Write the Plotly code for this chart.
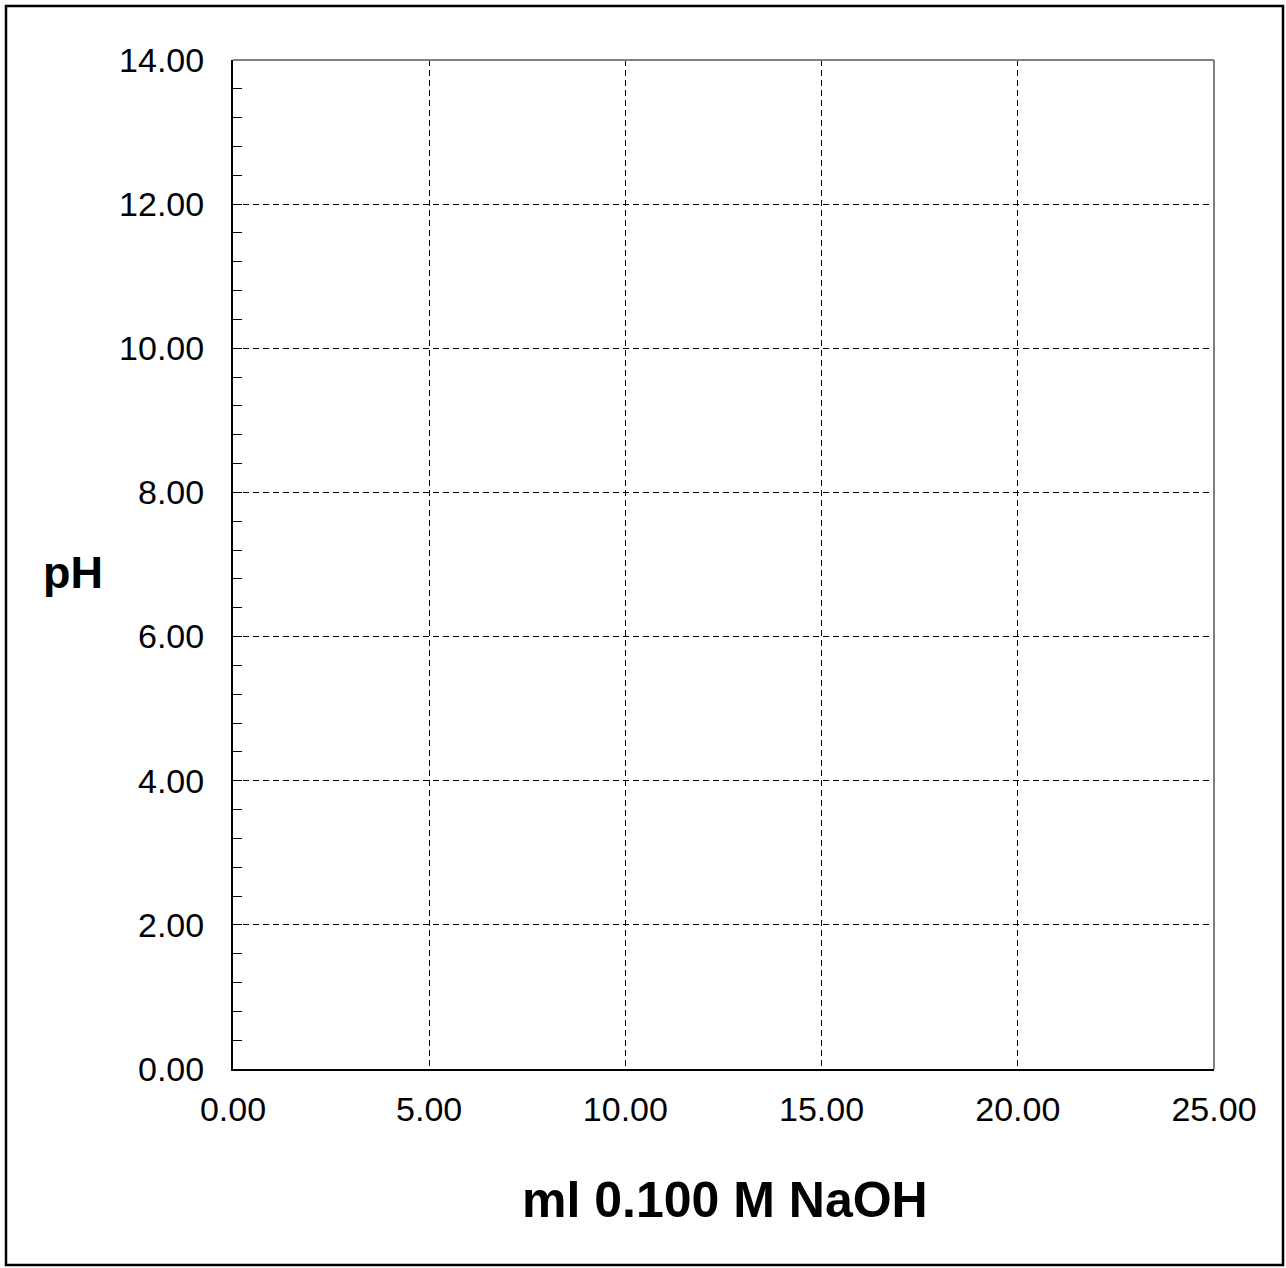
import plotly.graph_objects as go

# Data (the reference chart is an empty titration grid)
volume_ml = []
ph_values = []
x_ticks = [0, 5, 10, 15, 20, 25]
y_ticks = [0, 2, 4, 6, 8, 10, 12, 14]
x_title = "ml 0.100 M NaOH"
y_title = "pH"

W, H = 1286, 1268
L, R, T, B = 233, 1214, 60, 1069
pw, ph = R - L, B - T

def px_x(x):
    return (x - L) / pw

def px_y(y):
    return (B - y) / ph

fig = go.Figure()
fig.add_trace(go.Scatter(x=volume_ml, y=ph_values, mode="lines", line=dict(color="black"), showlegend=False))

FONT = "Liberation Sans, Arial, sans-serif"

fig.update_layout(
    width=W, height=H,
    margin=dict(l=L, r=W - R, t=T, b=H - B, pad=0),
    paper_bgcolor="white", plot_bgcolor="white",
    font=dict(family=FONT, color="black"),
    showlegend=False,
)

fig.update_xaxes(
    range=[0, 25], tickvals=x_ticks, tickformat=".2f",
    showgrid=True, gridcolor="black", gridwidth=1, griddash="6px,4px",
    zeroline=False, showline=True, linecolor="black", linewidth=2,
    ticks="", tickfont=dict(size=34, family=FONT, color="black"),
    ticklabelstandoff=9,
)
fig.update_yaxes(
    range=[0, 14], tickvals=y_ticks, tickformat=".2f",
    showgrid=True, gridcolor="black", gridwidth=1, griddash="6px,4px",
    zeroline=False, showline=True, linecolor="black", linewidth=2,
    ticks="inside", ticklen=9, tickcolor="black", tickwidth=1,
    minor=dict(ticks="inside", dtick=0.4, ticklen=9, tickcolor="black", tickwidth=1, showgrid=False),
    tickfont=dict(size=34, family=FONT, color="black"),
    ticklabelstandoff=20,
)

shapes = [
    # top and right plot border in gray
    dict(type="line", xref="paper", yref="paper", x0=0, x1=1, y0=1, y1=1, line=dict(color="#808080", width=2)),
    dict(type="line", xref="paper", yref="paper", x0=1, x1=1, y0=0, y1=1, line=dict(color="#808080", width=2)),
    # outer frame
    dict(type="rect", xref="paper", yref="paper",
         x0=px_x(6), x1=px_x(1283), y0=px_y(1265), y1=px_y(6),
         line=dict(color="black", width=2.5), fillcolor="rgba(0,0,0,0)", layer="above"),
]
fig.update_layout(shapes=shapes)

fig.add_annotation(text=y_title, xref="paper", yref="paper", x=px_x(73), y=px_y(572),
                   xanchor="center", yanchor="middle", showarrow=False,
                   font=dict(size=45, family=FONT, color="black", weight="bold"))
fig.add_annotation(text=x_title, xref="paper", yref="paper", x=px_x(725), y=px_y(1200),
                   xanchor="center", yanchor="middle", showarrow=False,
                   font=dict(size=50, family=FONT, color="black", weight="bold"))

fig.write_html("out.html", config={"displayModeBar": False},
               post_script="document.body.style.margin='0';document.body.style.overflow='hidden';")
